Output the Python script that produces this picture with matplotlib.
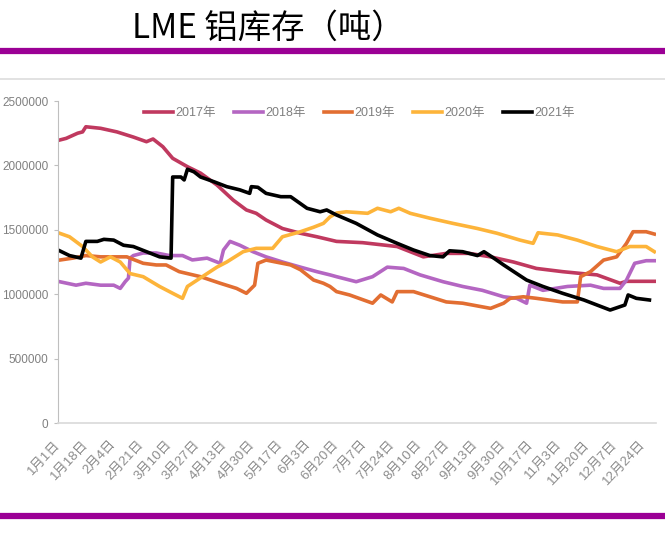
import matplotlib
matplotlib.use("Agg")
import matplotlib.pyplot as plt
from matplotlib.lines import Line2D

# --- data (day of year, tonnes) ---
days_2017 = [2, 6, 13, 16, 18, 27, 37, 47, 55, 59, 65, 71, 80, 88, 98, 108, 116, 122, 128, 138,
             149, 159, 171, 187, 208, 224, 238, 252, 265, 279, 293, 309, 321, 330, 344, 348, 365]
vals_2017 = [2197000, 2210000, 2250000, 2260000, 2300000, 2288000, 2260000, 2220000, 2184000,
             2205000, 2145000, 2055000, 1990000, 1940000, 1848000, 1730000, 1654000, 1628000,
             1576000, 1510000, 1473000, 1446000, 1410000, 1400000, 1370000, 1290000, 1317000,
             1317000, 1290000, 1250000, 1200000, 1175000, 1160000, 1150000, 1085000, 1100000,
             1100000]

days_2018 = [2, 12, 18, 27, 35, 39, 42, 44, 45, 47, 53, 61, 69, 77, 83, 92, 98, 100, 102, 106,
             112, 120, 128, 138, 149, 159, 167, 171, 183, 193, 202, 212, 222, 236, 248, 260, 273,
             281, 287, 289, 297, 312, 326, 334, 344, 348, 353, 360, 365]
vals_2018 = [1097000, 1070000, 1085000, 1070000, 1070000, 1045000, 1097000, 1125000, 1280000,
             1300000, 1320000, 1320000, 1300000, 1300000, 1266000, 1280000, 1250000, 1240000,
             1343000, 1410000, 1380000, 1330000, 1290000, 1250000, 1210000, 1175000, 1150000,
             1136000, 1097000, 1136000, 1210000, 1200000, 1150000, 1097000, 1060000, 1030000,
             980000, 968000, 930000, 1070000, 1030000, 1060000, 1070000, 1045000, 1045000,
             1110000, 1240000, 1260000, 1260000]

days_2019 = [2, 10, 18, 27, 37, 43, 53, 61, 67, 75, 88, 100, 110, 116, 121, 123, 128, 143, 149,
             157, 163, 167, 171, 179, 193, 198, 205, 208, 218, 228, 238, 248, 265, 273, 277, 285,
             293, 309, 318, 320, 326, 334, 342, 348, 352, 360, 365]
vals_2019 = [1265000, 1280000, 1300000, 1290000, 1290000, 1290000, 1240000, 1227000, 1227000,
             1175000, 1136000, 1085000, 1045000, 1007000, 1070000, 1240000, 1265000, 1227000,
             1190000, 1110000, 1085000, 1060000, 1020000, 994000, 930000, 994000, 940000,
             1020000, 1020000, 980000, 940000, 930000, 890000, 930000, 968000, 980000, 968000,
             940000, 940000, 1136000, 1175000, 1265000, 1290000, 1395000, 1485000, 1485000,
             1467000]

days_2020 = [2, 8, 16, 22, 27, 33, 39, 45, 53, 63, 71, 77, 80, 83, 92, 98, 104, 114, 122, 132,
             138, 149, 157, 163, 167, 171, 177, 190, 196, 204, 209, 216, 228, 242, 257, 269, 283,
             291, 294, 306, 318, 330, 342, 350, 360, 365]
vals_2020 = [1473000, 1446000, 1370000, 1290000, 1250000, 1290000, 1250000, 1160000, 1136000,
             1060000, 1007000, 968000, 1060000, 1085000, 1160000, 1210000, 1250000, 1330000,
             1356000, 1356000, 1446000, 1485000, 1520000, 1550000, 1600000, 1630000, 1640000,
             1628000, 1667000, 1640000, 1667000, 1628000, 1590000, 1550000, 1510000, 1473000,
             1420000, 1395000, 1477000, 1460000, 1420000, 1370000, 1330000, 1370000, 1370000,
             1330000]

days_2021 = [2, 8, 15, 18, 25, 29, 35, 41, 47, 55, 63, 70, 71, 76, 78, 80, 84, 88, 96, 104, 112,
             118, 119, 123, 128, 137, 143, 153, 161, 165, 171, 183, 196, 208, 218, 228, 236, 240,
             248, 257, 261, 267, 273, 281, 287, 297, 309, 322, 330, 338, 344, 347, 349, 354, 362]
vals_2021 = [1337000, 1300000, 1280000, 1410000, 1410000, 1426000, 1420000, 1380000, 1370000,
             1330000, 1290000, 1280000, 1910000, 1910000, 1887000, 1970000, 1950000, 1910000,
             1874000, 1835000, 1810000, 1783000, 1835000, 1830000, 1783000, 1757000, 1757000,
             1667000, 1640000, 1654000, 1615000, 1550000, 1460000, 1395000, 1343000, 1300000,
             1290000, 1337000, 1330000, 1300000, 1330000, 1280000, 1227000, 1160000, 1110000,
             1060000, 1007000, 955000, 916000, 877000, 903000, 916000, 994000, 968000, 955000]

series = [
    ("2017年", days_2017, vals_2017, "#C0395F"),
    ("2018年", days_2018, vals_2018, "#B466C2"),
    ("2019年", days_2019, vals_2019, "#E26E32"),
    ("2020年", days_2020, vals_2020, "#FDB43A"),
    ("2021年", days_2021, vals_2021, "#000000"),
]

tick_days = [1, 18, 35, 52, 69, 86, 103, 120, 137, 154, 171, 188, 205, 222, 239, 256, 273, 290,
             307, 324, 341, 358]
tick_labels = ["1月1日", "1月18日", "2月4日", "2月21日", "3月10日", "3月27日", "4月13日",
               "4月30日", "5月17日", "6月3日", "6月20日", "7月7日", "7月24日", "8月10日",
               "8月27日", "9月13日", "9月30日", "10月17日", "11月3日", "11月20日", "12月7日",
               "12月24日"]
y_ticks = [0, 500000, 1000000, 1500000, 2000000, 2500000]

fonts = ["Liberation Sans", "Noto Sans CJK SC", "DejaVu Sans"]
plt.rcParams["font.family"] = fonts
grey = "#808080"

fig = plt.figure(figsize=(6.65, 5.35), dpi=100)
ax = fig.add_axes([58 / 665, 1 - 423 / 535, 598 / 665, 322 / 535])

for name, d, v, c in series:
    ax.plot(d, v, color=c, linewidth=2.6, label=name, solid_joinstyle="round")

ax.set_xlim(1, 366)
ax.set_ylim(0, 2500000)
ax.set_yticks(y_ticks)
ax.set_yticklabels([str(t) for t in y_ticks])
ax.set_xticks(tick_days)
ax.set_xticklabels(tick_labels, rotation=47, ha="right", va="center",
                   rotation_mode="anchor", fontweight="light")

for s in ["top", "right"]:
    ax.spines[s].set_visible(False)
ax.spines["left"].set_color("#bfbfbf")
ax.spines["bottom"].set_color("#d9d9d9")
ax.spines["bottom"].set_linewidth(1.2)

ax.tick_params(axis="y", colors="#bfbfbf", labelcolor=grey, labelsize=8.5, length=3, pad=4)
ax.tick_params(axis="x", length=0, labelcolor="#8c8c8c", labelsize=9.5, pad=14)

leg = ax.legend(loc="center", bbox_to_anchor=(0.5406, 0.7888), bbox_transform=fig.transFigure,
                ncol=5, frameon=False, fontsize=9, handlelength=2.3, handletextpad=0.2,
                columnspacing=1.45)
for t in leg.get_texts():
    t.set_color(grey)

# header / footer decorations
fig.text(268 / 665, 1 - 28 / 535, "LME 铝库存（吨）", ha="center", va="center",
         fontsize=24, family=["Noto Sans CJK SC", "DejaVu Sans"], color="black")
fig.add_artist(Line2D([0, 1], [1 - 51 / 535] * 2, color="#9B0095", linewidth=4.5,
                      transform=fig.transFigure))
fig.add_artist(Line2D([0, 1], [1 - 79 / 535] * 2, color="#dddddd", linewidth=1.2,
                      transform=fig.transFigure))
fig.add_artist(Line2D([0, 1], [1 - 516 / 535] * 2, color="#9B0095", linewidth=4.5,
                      transform=fig.transFigure))

fig.savefig("out.png", dpi=100)
